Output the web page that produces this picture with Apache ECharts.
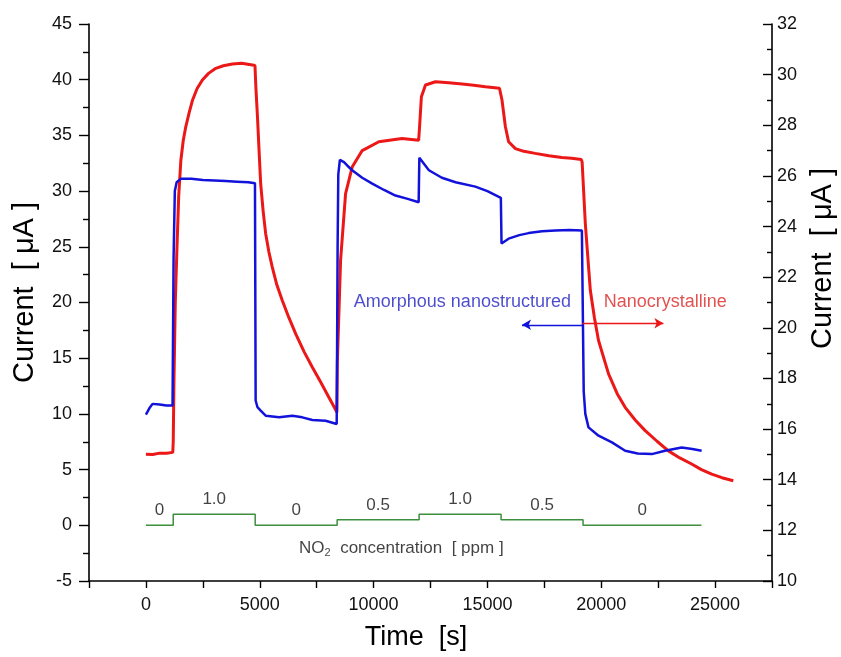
<!DOCTYPE html>
<html>
<head>
<meta charset="utf-8">
<script src="https://cdn.jsdelivr.net/npm/echarts@6/dist/echarts.min.js"></script>
<style>
  html, body { margin: 0; padding: 0; background: #ffffff; }
  #chart { width: 841px; height: 657px; }
</style>
</head>
<body>
<div id="chart"></div>
<script>
// Amorphous nanostructured film, current in µA (left axis)
const amorphTime = [0, 150, 290, 600, 900, 1170, 1200, 1215, 1270, 1350, 1530, 2000, 2500, 3000, 3500, 4000, 4500, 4790,
  4800, 4820, 4900, 5040, 5260, 5850, 6430, 6870, 7310, 7890, 8380,
  8400, 8420, 8450, 8520, 8600, 8700, 8840, 9060, 9500, 9940, 10460, 10960, 11500, 11980,
  12010, 12430, 13000, 13600, 14470, 15000, 15590,
  15620, 15930, 16400, 16810, 17400, 17980, 18600, 19150,
  19170, 19230, 19300, 19440, 19880, 20470, 21050, 21600, 22220, 22800, 23530, 24000, 24410];
const amorphCurrent = [9.93, 10.5, 10.9, 10.85, 10.75, 10.75, 10.8, 24.0, 30.0, 30.8, 31.1, 31.1, 31.0, 30.95, 30.9, 30.85, 30.8, 30.7,
  30.6, 11.2, 10.6, 10.3, 9.84, 9.69, 9.84, 9.69, 9.45, 9.39, 9.09,
  9.0, 25.0, 31.5, 32.8, 32.9, 32.6, 32.3, 31.87, 31.2, 30.67, 30.1, 29.6, 29.3, 29.0,
  33.0, 31.87, 31.2, 30.8, 30.4, 30.0, 29.4,
  25.3, 25.73, 26.05, 26.23, 26.4, 26.47, 26.5, 26.47,
  26.3, 12.0, 10.0, 8.79, 8.04, 7.44, 6.69, 6.45, 6.39, 6.69, 6.99, 6.85, 6.69];

// Nanocrystalline film, current in µA (right axis)
const nanoTime = [0, 300, 600, 900, 1180, 1200, 1230, 1290, 1360, 1440, 1535, 1640, 1750, 1900, 2050, 2250, 2480, 2750, 3070, 3400, 3800, 4200, 4680, 4790,
  4830, 4900, 4970, 5040, 5150, 5260, 5400, 5550, 5750, 5990, 6280, 6580, 6950, 7310, 7680, 8040, 8250, 8390,
  8410, 8550, 8770, 9060, 9500, 10230, 11250, 11980,
  12020, 12100, 12280, 12720, 13300, 13890, 14400, 14910, 15530, 15600,
  15640, 15790, 15930, 16230, 16600, 17100, 17700, 18270, 18700, 19120, 19160,
  19300, 19520, 19700, 19880, 20320, 20700, 21050, 21500, 21930, 22450, 22950, 23450, 23970, 24400, 24850, 25300, 25800];
const nanoCurrent = [15.01, 15.0, 15.05, 15.05, 15.08, 15.5, 17.8, 21.0, 23.06, 25.2, 26.62, 27.4, 27.94, 28.5, 29.0, 29.45, 29.79, 30.05, 30.25, 30.35, 30.42, 30.45, 30.38, 30.36,
  29.5, 28.33, 27.0, 25.7, 24.6, 23.72, 23.0, 22.4, 21.7, 21.08, 20.4, 19.76, 19.05, 18.44, 17.85, 17.25, 16.9, 16.66,
  18.7, 22.66, 25.3, 26.35, 27.0, 27.35, 27.48, 27.41,
  27.94, 29.13, 29.59, 29.72, 29.68, 29.63, 29.58, 29.52, 29.46, 29.4,
  29.0, 27.94, 27.35, 27.08, 26.97, 26.89, 26.8, 26.73, 26.7, 26.65, 26.55,
  24.12, 21.48, 20.4, 19.5, 18.18, 17.4, 16.86, 16.35, 15.94, 15.52, 15.14, 14.86, 14.62, 14.4, 14.22, 14.08, 13.96];

// NO2 dosing programme: start time of each step and its concentration (ppm)
const stepTime = [0, 1200, 4800, 8400, 12000, 15600, 19200, 24400];
const stepPpm = [0, 1.0, 0, 0.5, 1.0, 0.5, 0, 0];

// Axis ranges
const timeRange = [-2500, 27500];
const timeTickStep = 2500;
const timeLabelStep = 5000;
const leftRange = [-5, 45];
const leftTickStep = 5;
const rightRange = [10, 32];
const rightTickStep = 2;

const FONT = '"Liberation Sans", Arial, Helvetica, sans-serif';
const BLUE = '#1212da';
const RED = '#ec1717';
const GREEN = '#3d8f3d';

const zip = (xs, ys) => xs.map((x, i) => [x, ys[i]]);

// One label per dosing step, centred over the step
const stepLabels = stepTime.slice(0, -1).map((t, i) => ({
  value: [(t + stepTime[i + 1]) / 2, stepPpm[i]],
  label: { formatter: stepPpm[i] === 0 ? '0' : stepPpm[i].toFixed(1) }
}));

const chart = echarts.init(document.getElementById('chart'), null, { renderer: 'canvas' });

const axisBase = {
  type: 'value',
  splitLine: { show: false },
  axisLine: { show: true, onZero: false, lineStyle: { color: '#000', width: 1.6 } },
  axisLabel: { color: '#111', fontFamily: FONT, fontSize: 18 },
  nameTextStyle: { color: '#000', fontFamily: FONT, fontSize: 29 }
};

chart.setOption({
  animation: false,
  backgroundColor: '#ffffff',
  grid: { left: 89, right: 69, top: 24, bottom: 76, containLabel: false, outerBoundsMode: 'none' },
  xAxis: Object.assign({}, axisBase, {
    min: timeRange[0], max: timeRange[1], interval: timeTickStep,
    name: 'Time  [s]', nameLocation: 'middle', nameGap: 43,
    nameTextStyle: { color: '#000', fontFamily: FONT, fontSize: 27, padding: [0, 29, 0, 0] },
    axisTick: { show: true, length: 7, lineStyle: { color: '#000', width: 1.4 } },
    axisLabel: {
      color: '#111', fontFamily: FONT, fontSize: 18, margin: 15,
      showMinLabel: true, showMaxLabel: true, hideOverlap: false,
      formatter: v => (v % timeLabelStep === 0 ? String(v) : '')
    }
  }),
  yAxis: [
    Object.assign({}, axisBase, {
      position: 'left',
      min: leftRange[0], max: leftRange[1], interval: leftTickStep,
      name: 'Current  [ \u03bcA ]', nameLocation: 'middle', nameGap: 50, nameRotate: 90,
      nameTextStyle: { color: '#000', fontFamily: FONT, fontSize: 29, padding: [0, 0, 0, 20] },
      axisTick: { show: true, length: 10, lineStyle: { color: '#000', width: 1.4 } },
      minorTick: { show: true, splitNumber: 2, length: 6, lineStyle: { color: '#000', width: 1.4 } },
      axisLabel: { color: '#111', fontFamily: FONT, fontSize: 18, margin: 17 }
    }),
    Object.assign({}, axisBase, {
      position: 'right',
      min: rightRange[0], max: rightRange[1], interval: rightTickStep,
      name: 'Current  [ \u03bcA ]', nameLocation: 'middle', nameGap: 36, nameRotate: 90,
      nameTextStyle: { color: '#000', fontFamily: FONT, fontSize: 29, padding: [0, 0, 0, 88] },
      axisTick: { show: true, inside: true, length: 9, lineStyle: { color: '#000', width: 1.4 } },
      minorTick: { show: true, splitNumber: 2, length: 5, lineStyle: { color: '#000', width: 1.4 } },
      axisLabel: { color: '#111', fontFamily: FONT, fontSize: 18, margin: 5 }
    })
  ],
  series: [
    {
      name: 'NO2 concentration',
      type: 'line',
      yAxisIndex: 0,
      step: 'end',
      symbol: 'none',
      lineStyle: { color: GREEN, width: 1.5 },
      data: zip(stepTime, stepPpm),
      z: 1
    },
    {
      name: 'Step labels',
      type: 'scatter',
      yAxisIndex: 0,
      symbolSize: 0,
      silent: true,
      label: { show: true, position: 'top', distance: 6, color: '#111', fontFamily: FONT, fontSize: 17 },
      data: stepLabels
    },
    {
      name: 'Nanocrystalline',
      type: 'line',
      yAxisIndex: 1,
      symbol: 'none',
      lineStyle: { color: RED, width: 3 },
      data: zip(nanoTime, nanoCurrent),
      markLine: {
        silent: true,
        symbol: ['none', 'arrow'],
        symbolSize: [8, 9],
        label: { show: false },
        lineStyle: { color: RED, width: 1.3, type: 'solid' },
        data: [[{ coord: [19170, 20.18] }, { coord: [22730, 20.18] }]]
      },
      z: 3
    },
    {
      name: 'Amorphous nanostructured',
      type: 'line',
      yAxisIndex: 0,
      symbol: 'none',
      lineStyle: { color: BLUE, width: 2.5 },
      data: zip(amorphTime, amorphCurrent),
      markLine: {
        silent: true,
        symbol: ['none', 'arrow'],
        symbolSize: [8, 9],
        label: { show: false },
        lineStyle: { color: BLUE, width: 1.3, type: 'solid' },
        data: [[{ coord: [19170, 18.0] }, { coord: [16520, 18.0] }]]
      },
      z: 4
    },
    {
      name: 'Annotations left',
      type: 'scatter',
      yAxisIndex: 0,
      symbolSize: 0,
      silent: true,
      label: {
        show: true, position: 'inside', fontFamily: FONT, fontSize: 18,
        formatter: p => p.data.text,
        rich: { sub: { fontSize: 11, verticalAlign: 'bottom', padding: [10, 0, 0, 0], color: '#111', fontFamily: FONT } }
      },
      data: [
        { value: [13900, 20.0], text: 'Amorphous nanostructured', label: { color: '#1f1fc2', fontSize: 18 } },
        { value: [11220, -2.05], text: 'NO{sub|2}  concentration  [ ppm ]', label: { color: '#111', fontSize: 17 } }
      ]
    },
    {
      name: 'Annotations right',
      type: 'scatter',
      yAxisIndex: 1,
      symbolSize: 0,
      silent: true,
      label: { show: true, position: 'inside', fontFamily: FONT, fontSize: 18, color: '#dc2626', formatter: p => p.data.text },
      data: [{ value: [22810, 21.0], text: 'Nanocrystalline' }]
    }
  ]
});
</script>
</body>
</html>
